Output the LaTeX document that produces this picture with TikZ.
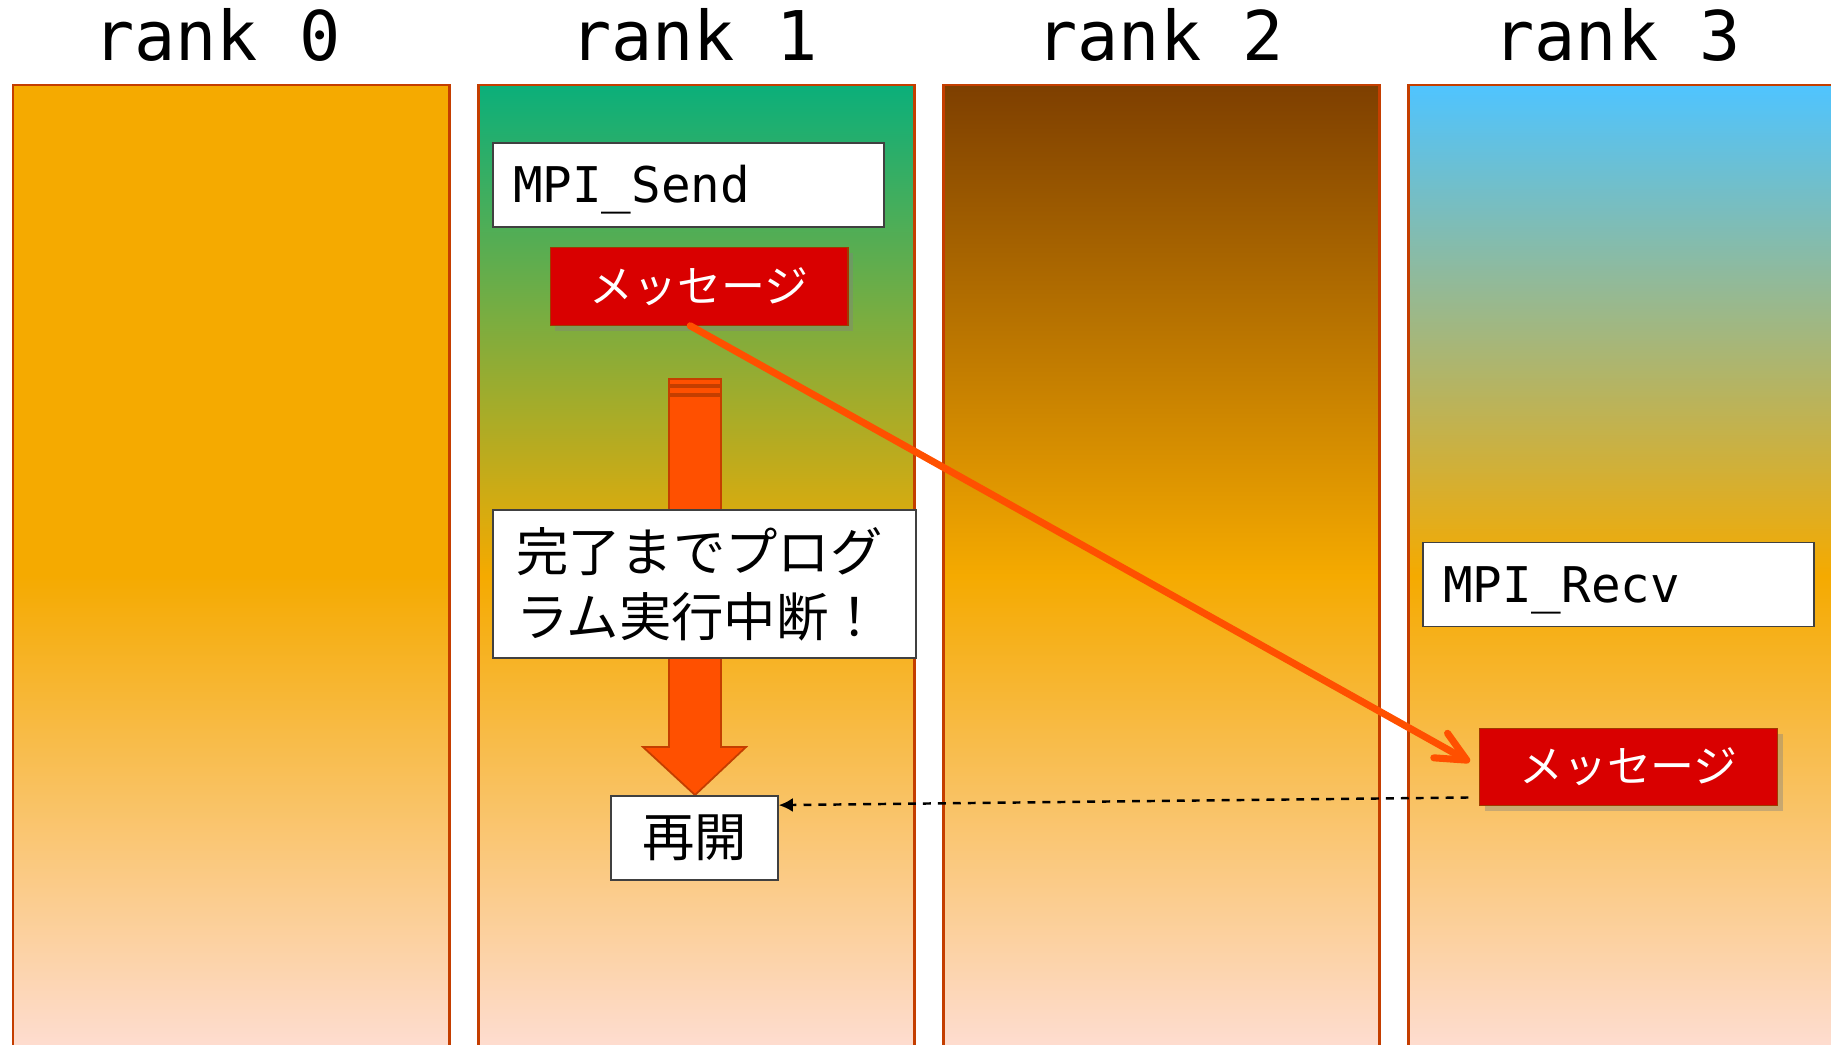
\documentclass[tikz,border=0pt]{standalone}
\usepackage{fontspec}
\setmonofont{DejaVu Sans Mono}
\newfontfamily\jpfont{Noto Sans CJK JP}
\usetikzlibrary{arrows.meta,shadows}

\definecolor{rankorange}{HTML}{F5AA00}
\definecolor{rankpale}{HTML}{FEDED6}
\definecolor{rankgreen}{HTML}{0BAF7A}
\definecolor{rankbrown}{HTML}{7E3F00}
\definecolor{rankblue}{HTML}{4FC4FF}
\definecolor{rankedge}{HTML}{C43E00}
\definecolor{msgred}{HTML}{D90000}
\definecolor{msgedge}{HTML}{A03A00}
\definecolor{sendorange}{HTML}{FF5000}
\definecolor{boxgray}{HTML}{404040}

\begin{document}
\begin{tikzpicture}[x=0.02cm, y=-0.02cm,
    rank/.style={font=\ttfamily\fontsize{39}{42}\selectfont, anchor=base},
    call/.style={draw=boxgray, fill=white, line width=0.9pt, text width=7.02cm, inner xsep=0.4cm, inner ysep=0pt, text height=0.72cm, text depth=0cm, minimum height=1.68cm, align=left, font=\ttfamily\fontsize{28}{30}\selectfont},
    message/.style={draw=msgedge, fill=msgred, text=white, line width=0.6pt, minimum width=5.96cm, minimum height=1.55cm, inner sep=0pt, font=\jpfont\fontsize{25}{28}\selectfont, drop shadow={shadow xshift=3pt, shadow yshift=-3pt, opacity=0.4}},
    note/.style={draw=boxgray, fill=white, line width=0.9pt, font=\jpfont\fontsize{29.8}{37}\selectfont}]
  \clip (0,0) rectangle (1831,1044);
  % columns
  \foreach \i/\topcol in {0/rankorange, 1/rankgreen, 2/rankbrown, 3/rankblue} {
    \shade[top color=\topcol, bottom color=rankorange] (13+465*\i,85) rectangle (449+465*\i,576);
    \shade[top color=rankorange, bottom color=rankpale] (13+465*\i,575) rectangle (449+465*\i,1060);
    \draw[rankedge, line width=1.7pt] (13+465*\i,1060) -- (13+465*\i,85) -- (449+465*\i,85) -- (449+465*\i,1060);
  }
  \node[rank] (r0) at (217,61) {rank 0};
  \node[rank] (r1) at (694,61) {rank 1};
  \node[rank] (r2) at (1160,61) {rank 2};
  \node[rank] (r3) at (1617,61) {rank 3};

  % blocking arrow
  \draw[fill=sendorange, draw=rankedge, line width=1pt] (669,396) -- (721,396) -- (721,747) -- (746,747) -- (695,795) -- (643,747) -- (669,747) -- cycle;
  \draw[fill=sendorange, draw=rankedge, line width=1pt] (669,379) rectangle (721,385);
  \draw[fill=sendorange, draw=rankedge, line width=1pt] (669,387) rectangle (721,394);

  \node[call] (send) at (688.5,185) {MPI\_Send};
  \node[message] (msg1) at (699,286.5) {メッセージ};
  \node[note, text width=7.54cm, inner xsep=0.46cm, inner ysep=0pt, minimum height=2.96cm, align=left] (wait) at (704.5,584) {完了までプログ\\ラム実行中断！};
  \node[note, minimum width=3.34cm, minimum height=1.68cm, inner sep=0pt] (resume) at (694.5,838) {再開};
  \node[call] (recv) at (1618.5,584.5) {MPI\_Recv};
  \node[message] (msg3) at (1628.5,767) {メッセージ};

  \draw[line width=1.4pt, dash pattern=on 4.5pt off 4pt, -{Latex[length=8pt,width=8pt]}] ([xshift=-6pt,yshift=5pt]msg3.south west) -- ([yshift=18.7pt]resume.east);
  \draw[sendorange, line width=4pt, line cap=round, shorten >=6pt, -{Straight Barb[length=17pt,width=16pt,line cap=round,line join=round]}] ([xshift=-5pt]msg1.south) -- (msg3.west);
\end{tikzpicture}
\end{document}
